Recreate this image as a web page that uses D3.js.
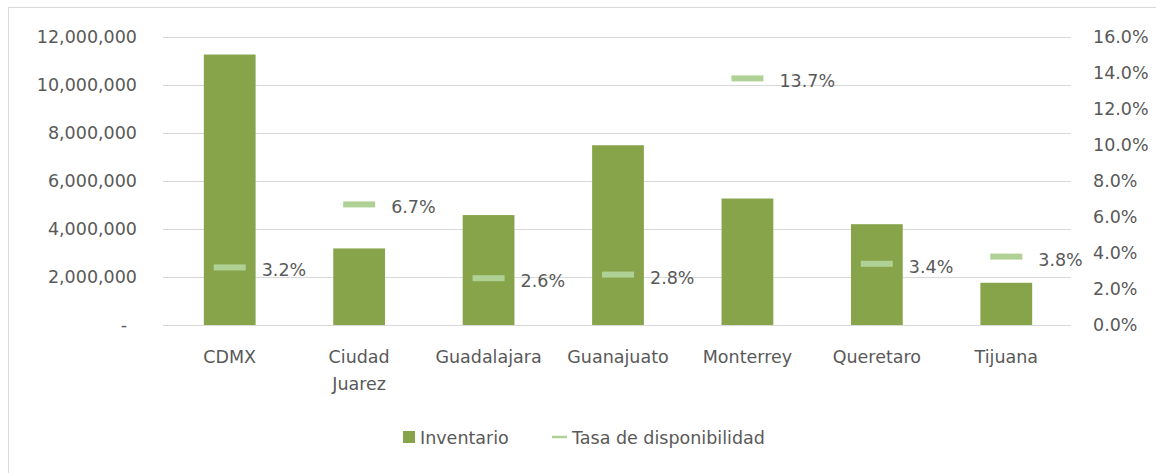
<!DOCTYPE html>
<html>
<head>
<meta charset="utf-8">
<script src="https://cdn.jsdelivr.net/npm/d3@7"></script>
<style>
  body { margin: 0; background: #fff; }
  text { font-family: "DejaVu Sans", sans-serif; fill: #595959; }
</style>
</head>
<body>
<div id="chart-area"></div>
<script>
// Data
const cities = ["CDMX", "Ciudad Juarez", "Guadalajara", "Guanajuato", "Monterrey", "Queretaro", "Tijuana"];
const inventario = [11270000, 3190000, 4580000, 7490000, 5270000, 4200000, 1760000];
const tasa = [0.032, 0.067, 0.026, 0.028, 0.137, 0.034, 0.038];
const leftTicks = [0, 2000000, 4000000, 6000000, 8000000, 10000000, 12000000];
const rightTicks = [0, 0.02, 0.04, 0.06, 0.08, 0.10, 0.12, 0.14, 0.16];

const W = 1156, H = 473;
const plot = { left: 165, right: 1071, top: 37, bottom: 325 };

const svg = d3.select("#chart-area")
    .append("svg")
    .attr("width", W)
    .attr("height", H);

// Outer frame (only left and top edges are visible in the crop)
svg.append("rect")
    .attr("x", 8.5).attr("y", 7.5)
    .attr("width", W + 20).attr("height", H + 20)
    .attr("fill", "none")
    .attr("stroke", "#d9d9d9");

// Scales
const x = d3.scaleBand().domain(cities).range([plot.left, plot.right]).paddingInner(0.6).paddingOuter(0.3);
const yL = d3.scaleLinear().domain([0, 12000000]).range([plot.bottom, plot.top]);
const yR = d3.scaleLinear().domain([0, 0.16]).range([plot.bottom, plot.top]);

// Gridlines
svg.append("g")
    .selectAll("line")
    .data(leftTicks)
    .join("line")
    .attr("x1", plot.left - 2).attr("x2", plot.right)
    .attr("y1", d => Math.round(yL(d)) + 0.5)
    .attr("y2", d => Math.round(yL(d)) + 0.5)
    .attr("stroke", "#d9d9d9")
    .attr("stroke-width", 1.2);

// Left axis
const leftAxis = svg.append("g")
    .attr("transform", "translate(" + (plot.left - 28) + ",0)")
    .call(d3.axisLeft(yL).tickValues(leftTicks).tickSize(0).tickPadding(0)
        .tickFormat(d => d === 0 ? "-" : d3.format(",")(d)));
leftAxis.select(".domain").remove();
leftAxis.selectAll("text")
    .style("font-size", "17.5px")
    .attr("fill", "#595959")
    .attr("dx", d => d === 0 ? -10 : 0);

// Right axis
const rightAxis = svg.append("g")
    .attr("transform", "translate(" + (plot.right + 22) + ",0)")
    .call(d3.axisRight(yR).tickValues(rightTicks).tickSize(0).tickPadding(0)
        .tickFormat(d3.format(".1%")));
rightAxis.select(".domain").remove();
rightAxis.selectAll("text")
    .style("font-size", "17.5px")
    .attr("fill", "#595959");

// Bars
svg.append("g")
    .selectAll("rect")
    .data(cities)
    .join("rect")
    .attr("x", d => x(d))
    .attr("y", (d, i) => yL(inventario[i]))
    .attr("width", x.bandwidth())
    .attr("height", (d, i) => plot.bottom - yL(inventario[i]))
    .attr("fill", "#87a44b");

// Rate markers (dash) and labels
const marks = svg.append("g")
    .selectAll("g")
    .data(cities)
    .join("g")
    .attr("transform", (d, i) => "translate(" + (x(d) + x.bandwidth() / 2) + "," + yR(tasa[i]) + ")");

marks.append("rect")
    .attr("x", -16).attr("y", -3)
    .attr("width", 32).attr("height", 6)
    .attr("fill", "#b0d195");

marks.append("text")
    .attr("x", 32)
    .attr("y", 9)
    .style("font-size", "17.5px")
    .text((d, i) => d3.format(".1%")(tasa[i]));

// Category labels
const catLabels = svg.append("g")
    .selectAll("text")
    .data(cities)
    .join("text")
    .attr("x", d => x(d) + x.bandwidth() / 2)
    .attr("y", 363)
    .attr("text-anchor", "middle")
    .style("font-size", "17.5px");

catLabels.each(function(d) {
    const parts = d === "Ciudad Juarez" ? ["Ciudad", "Juarez"] : [d];
    d3.select(this).selectAll("tspan")
        .data(parts)
        .join("tspan")
        .attr("x", x(d) + x.bandwidth() / 2)
        .attr("dy", (p, i) => i === 0 ? 0 : 27)
        .text(p => p);
});

// Legend
const legend = svg.append("g").attr("transform", "translate(403,437)");
legend.append("rect")
    .attr("x", 0).attr("y", -6)
    .attr("width", 12).attr("height", 12)
    .attr("fill", "#87a44b");
legend.append("text")
    .attr("x", 17).attr("y", 6.5)
    .style("font-size", "17.5px")
    .text("Inventario");
legend.append("line")
    .attr("x1", 149).attr("x2", 164)
    .attr("y1", 0).attr("y2", 0)
    .attr("stroke", "#b0d195")
    .attr("stroke-width", 2.5);
legend.append("text")
    .attr("x", 169).attr("y", 6.5)
    .style("font-size", "17.5px")
    .text("Tasa de disponibilidad");
</script>
</body>
</html>
